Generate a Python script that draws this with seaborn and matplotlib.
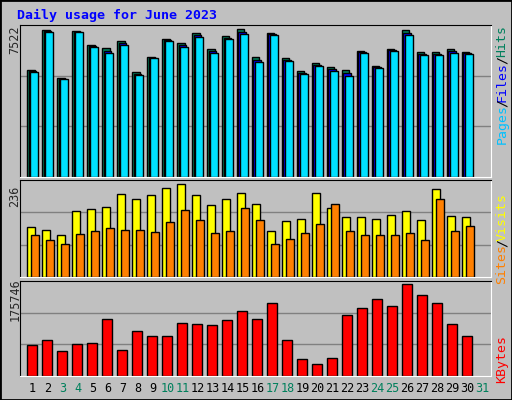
import numpy as np
import pandas as pd
import matplotlib
matplotlib.use("Agg")
import matplotlib.pyplot as plt
import seaborn as sns

# Daily values, June 2023
days = list(range(1, 31))
hits = [5429, 7471, 5021, 7420, 6705, 6552, 6910, 5327, 6093, 7012,
        6808, 7318, 6501, 7165, 7522, 6093, 7318, 6042, 5378, 5786,
        5582, 5429, 6399, 5633, 6501, 7471, 6348, 6348, 6501, 6348]
files = [5378, 7420, 4995, 7395, 6654, 6400, 6808, 5250, 6068, 6961,
         6705, 7216, 6400, 7088, 7394, 5965, 7267, 5965, 5301, 5710,
         5480, 5276, 6348, 5582, 6450, 7343, 6272, 6272, 6400, 6297]
pages = [5327, 7369, 4970, 7369, 6603, 6297, 6705, 5174, 6042, 6910,
         6603, 7114, 6297, 7012, 7267, 5838, 7216, 5889, 5225, 5633,
         5378, 5123, 6297, 5531, 6399, 7216, 6195, 6195, 6297, 6246]
visits = [128, 120, 108, 169, 174, 179, 212, 199, 210, 227,
          236, 210, 183, 198, 213, 185, 117, 142, 149, 213,
          177, 152, 152, 147, 157, 167, 144, 223, 155, 152]
sites = [106, 93, 83, 109, 116, 126, 119, 119, 114, 141,
         170, 146, 111, 116, 175, 144, 85, 98, 111, 134,
         187, 116, 106, 106, 106, 111, 93, 198, 116, 129]
kbytes = [60300, 69900, 48800, 61600, 63500, 109700, 50700, 85400, 75800, 75800,
          100800, 98800, 96900, 106500, 123800, 108400, 139200, 69900, 33400, 23700,
          35300, 116100, 129600, 146900, 133400, 175746, 154600, 139200, 98800, 75800]
weekend = [3, 4, 10, 11, 17, 18, 24, 25, 31]

BG = "#C0C0C0"
W, H = 512, 400
fig = plt.figure(figsize=(5.12, 4.0), dpi=100, facecolor=BG)
sns.set_style("white")
mono = "DejaVu Sans Mono"

def px_axes(x0, y0, x1, y1):
    return fig.add_axes([x0 / W, 1 - y1 / H, (x1 - x0) / W, (y1 - y0) / H])

def style(ax, top):
    ax.set_facecolor(BG)
    ax.set_xlim(0.167, 31.57)
    ax.set_ylim(0, top)
    for y in (top / 3, 2 * top / 3):
        ax.axhline(y, color="#808080", lw=1, zorder=0)
    ax.set_xticks([]); ax.set_yticks([])
    ax.set_xlabel(""); ax.set_ylabel("")
    for s in ("top", "left"):
        ax.spines[s].set_color("black")
    for s in ("bottom", "right"):
        ax.spines[s].set_color("white")

def bars(ax, vals, off, width, color):
    df = pd.DataFrame({"x": [d + off for d in days], "y": vals})
    sns.barplot(data=df, x="x", y="y", native_scale=True, width=width,
                color=color, edgecolor="black", linewidth=1, saturation=1, ax=ax)

ax1 = px_axes(20, 25, 491, 177)
bars(ax1, hits, -0.13, 0.53, "#00805C")
bars(ax1, files, 0.0, 0.53, "#0000FF")
bars(ax1, pages, 0.13, 0.53, "#00E0FF")
style(ax1, max(hits) * 1.03)

ax2 = px_axes(20, 180, 491, 277)
bars(ax2, visits, -0.1, 0.55, "#FFFF00")
bars(ax2, sites, 0.17, 0.55, "#FF8000")
style(ax2, max(visits) * 1.047)

ax3 = px_axes(20, 281, 491, 376)
bars(ax3, kbytes, -0.03, 0.7, "#FF0000")
style(ax3, max(kbytes) * 1.036)

# border
fig.patches.append(plt.Rectangle((0, 0), 1, 1, transform=fig.transFigure,
                                 fill=False, edgecolor="black", lw=2))

def t(x, y, s, **kw):
    fig.text(x / W, 1 - y / H, s, family=mono, **kw)

t(17, 15, "Daily usage for June 2023", color="#0000FF", fontsize=9.5,
  weight="bold", va="center")
t(15, 40, "7522", rotation=90, fontsize=8.5, ha="center", va="center")
t(15, 196, "236", rotation=90, fontsize=8.5, ha="center", va="center")
t(15, 300, "175746", rotation=90, fontsize=8.5, ha="center", va="center")

for y, s, c in [(41, "Hits", "#00805C"), (60, "/", "#000000"),
                (82, "Files", "#0000FF"), (103, "/", "#000000"),
                (124, "Pages", "#00C0FF"),
                (217, "Visits", "#FFFF00"), (243, "/", "#000000"),
                (264, "Sites", "#FF8000"),
                (359, "KBytes", "#FF0000")]:
    t(502, y, s, rotation=90, color=c, fontsize=9.5, ha="center", va="center")

for d in range(1, 32):
    c = "#00805C" if d in weekend else "black"
    t(32.5 + 15 * (d - 1), 389, str(d), color=c, fontsize=8.5, ha="center", va="center")

fig.savefig("out.png", dpi=100, facecolor=BG)
